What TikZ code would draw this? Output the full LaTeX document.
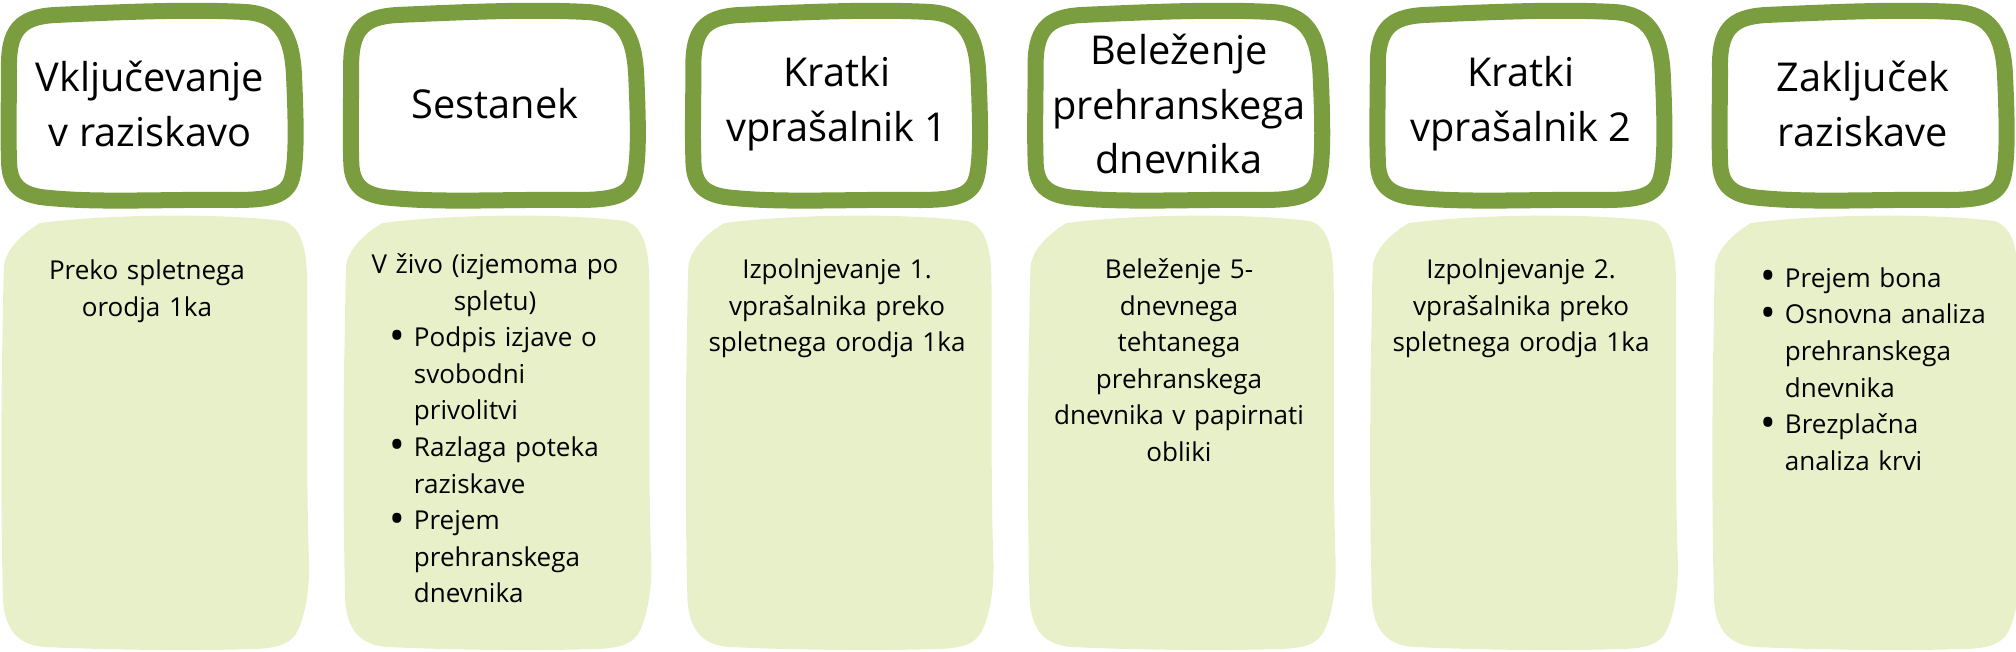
\documentclass[tikz,border=0pt]{standalone}
\usepackage{fontspec}
\setmainfont{Open Sans}
\definecolor{stepgreen}{HTML}{7A9E3F}
\definecolor{steppale}{HTML}{E8F0C9}
\tikzset{
  headline/.style={draw=stepgreen, line width=0.16cm, fill=white, line join=round},
  bodyfill/.style={fill=steppale},
  headtext/.style={align=center, inner sep=0pt, font=\fontsize{11.3}{15.6}\selectfont},
  bodytext/.style={anchor=north, text width=2.9cm, align=center, inner sep=0pt,
    font=\fontsize{7.4}{10.4}\selectfont},
}
% one bullet item, with hanging lines
\newcommand{\blt}[2][0.4cm]{\par\leftskip=#1\hangindent=0.24cm\hangafter=1
  \noindent\makebox[0.24cm][l]{\raisebox{-0.25ex}{\scalebox{1.6}{\textbullet}}}#2\par}
\begin{document}
\begin{tikzpicture}[x=0.01cm, y=-0.01cm]
	\useasboundingbox (0,0) rectangle (2016,651);
	\foreach \c in {0,...,5}{
	\begin{scope}[xshift=\c*3.42cm]
		\fill[bodyfill] (4,265) .. controls (6,252) and (18,236) .. (40,223) .. controls (110,214) and (220,213) .. (283,221)
			.. controls (300,226) and (306,245) .. (307,275) .. controls (308,380) and (306,480) .. (309,560)
			.. controls (310,590) and (305,615) .. (298,630) .. controls (292,643) and (280,648) .. (255,649)
			.. controls (190,651) and (110,650) .. (45,647) .. controls (18,645) and (5,630) .. (3,600)
			.. controls (1,520) and (1,440) .. (2,360) .. controls (3,320) and (3,290) .. (4,265) -- cycle;
		\draw[headline] (9,70) .. controls (8,30) and (20,17) .. (55,15) .. controls (120,12) and (190,9) .. (245,12)
			.. controls (280,14) and (292,35) .. (294,75) .. controls (296,120) and (297,160) .. (292,178)
			.. controls (287,196) and (270,200) .. (235,200) .. controls (170,199) and (100,203) .. (50,198)
			.. controls (20,196) and (9,185) .. (9,160) .. controls (8,130) and (9,100) .. (9,70) -- cycle;
	\end{scope}}
	\node[headtext] (head1) at (150,104) {Vključevanje\\v raziskavo};
	\node[headtext] (head2) at (495,104) {Sestanek};
	\node[headtext] (head3) at (837,104) {Kratki\\vprašalnik 1};
	\node[headtext] (head4) at (1179,104) {Beleženje\\prehranskega\\dnevnika};
	\node[headtext] (head5) at (1521,104) {Kratki\\vprašalnik 2};
	\node[headtext] (head6) at (1863,104) {Zaključek\\raziskave};
	\node[bodytext] (body1) at (147,259) {Preko spletnega\\orodja 1ka};
	\node[bodytext, align=left] (body2) at (495,253) {{\centering V živo (izjemoma po\\spletu)\par}%
		\blt{Podpis izjave o\newline svobodni\newline privolitvi}%
		\blt{Razlaga poteka\newline raziskave}%
		\blt{Prejem\newline prehranskega\newline dnevnika}};
	\node[bodytext] (body3) at (837,258) {Izpolnjevanje 1.\\vprašalnika preko\\spletnega orodja 1ka};
	\node[bodytext] (body4) at (1179,258) {Beleženje 5-\\dnevnega\\tehtanega\\prehranskega\\dnevnika v papirnati\\obliki};
	\node[bodytext] (body5) at (1521,258) {Izpolnjevanje 2.\\vprašalnika preko\\spletnega orodja 1ka};
	\node[bodytext, align=left] (body6) at (1863,250) {\blt[0.43cm]{Prejem bona}%
		\blt[0.43cm]{Osnovna analiza\newline prehranskega\newline dnevnika}%
		\blt[0.43cm]{Brezplačna\newline analiza krvi}};
\end{tikzpicture}
\end{document}
